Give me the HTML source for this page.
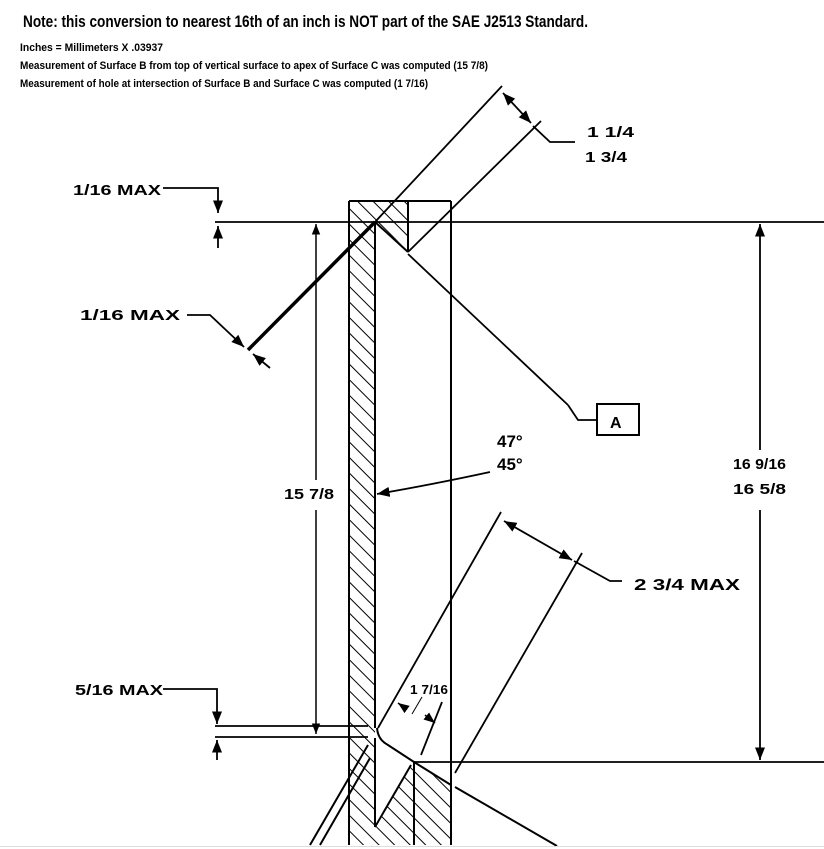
<!DOCTYPE html>
<html><head><meta charset="utf-8"><style>
html,body{margin:0;padding:0;background:#fff;}
svg{display:block;}
text{font-family:"Liberation Sans",sans-serif;font-weight:bold;fill:#000;}
</style></head><body>
<svg width="824" height="849" viewBox="0 0 824 849" xmlns="http://www.w3.org/2000/svg">
<defs>
<pattern id="h" patternUnits="userSpaceOnUse" width="11" height="11" patternTransform="rotate(-45)">
<line x1="0" y1="0" x2="0" y2="11" stroke="#000" stroke-width="2"/>
</pattern>
<marker id="a" viewBox="0 0 10 10" refX="10" refY="5" markerWidth="7" markerHeight="7" orient="auto-start-reverse"><path d="M0,1 L10,5 L0,9 z" fill="#000"/></marker>
</defs>
<text x="23" y="27" font-size="17" textLength="565" lengthAdjust="spacingAndGlyphs">Note: this conversion to nearest 16th of an inch is NOT part of the SAE J2513 Standard.</text>
<text x="20" y="51" font-size="11" textLength="143" lengthAdjust="spacingAndGlyphs">Inches = Millimeters X .03937</text>
<text x="20" y="69" font-size="11" textLength="468" lengthAdjust="spacingAndGlyphs">Measurement of Surface B from top of vertical surface to apex of Surface C was computed (15 7/8)</text>
<text x="20" y="87" font-size="11" textLength="408" lengthAdjust="spacingAndGlyphs">Measurement of hole at intersection of Surface B and Surface C was computed (1 7/16)</text>

<g stroke="#000" fill="none" stroke-width="2">
<rect x="349" y="222" width="26" height="623" fill="url(#h)" stroke="none"/>
<polygon points="349,202 408,202 408,250 375,222 349,222" fill="url(#h)" stroke="none"/>
<polygon points="414,762 451,785 451,845 375,845 375,827" fill="url(#h)" stroke="none"/>
<line x1="349" y1="201" x2="451" y2="201"/>
<line x1="349" y1="201" x2="349" y2="845"/>
<line x1="451" y1="201" x2="451" y2="845"/>
<line x1="375" y1="222" x2="375" y2="728"/>
<line x1="375" y1="738" x2="375" y2="827"/>
<line x1="408" y1="201" x2="408" y2="252"/>
<line x1="414" y1="762" x2="414" y2="845"/>
<line x1="215" y1="222" x2="824" y2="222" stroke-width="1.8"/>
<line x1="375" y1="222" x2="408" y2="252"/>
<line x1="408" y1="254" x2="568" y2="405" stroke-width="1.8"/>
<polyline points="568,405 578,420 597,420" stroke-width="1.8"/>
<line x1="375" y1="222" x2="502" y2="86" stroke-width="1.8"/>
<line x1="408" y1="252" x2="541" y2="121" stroke-width="1.8"/>
<line x1="375" y1="222" x2="248" y2="350" stroke-width="3.5"/>
<line x1="503" y1="93" x2="531" y2="123" stroke-width="1.8" marker-start="url(#a)" marker-end="url(#a)"/>
<polyline points="533,126 550,142 575,142" stroke-width="1.8"/>
<polyline points="163,188 218,188 218,213" stroke-width="1.8" marker-end="url(#a)"/>
<line x1="218" y1="248" x2="218" y2="226" stroke-width="1.8" marker-end="url(#a)"/>
<polyline points="187,315 210,315 244,347" stroke-width="1.8" marker-end="url(#a)"/>
<line x1="270" y1="368" x2="253" y2="354" stroke-width="1.8" marker-end="url(#a)"/>
<rect x="597" y="404" width="42" height="31" stroke-width="2"/>
<line x1="316" y1="480" x2="316" y2="224" stroke-width="1.5" marker-end="url(#a)"/>
<line x1="316" y1="510" x2="316" y2="734" stroke-width="1.5" marker-end="url(#a)"/>
<line x1="760" y1="450" x2="760" y2="224" stroke-width="1.8" marker-end="url(#a)"/>
<line x1="760" y1="510" x2="760" y2="760" stroke-width="1.8" marker-end="url(#a)"/>
<path d="M490,472 Q430,485 377,494" stroke-width="1.8" marker-end="url(#a)"/>
<line x1="215" y1="726" x2="368" y2="726" stroke-width="1.8"/>
<line x1="215" y1="737" x2="368" y2="737" stroke-width="1.8"/>
<polyline points="163,689 217,689 217,724" stroke-width="1.8" marker-end="url(#a)"/>
<line x1="217" y1="760" x2="217" y2="740" stroke-width="1.8" marker-end="url(#a)"/>
<path d="M377,728 Q378,740 388,745 L414,762 L451,785" stroke-width="2"/>
<line x1="455" y1="787" x2="557" y2="846" stroke-width="2"/>
<line x1="414" y1="762" x2="824" y2="762" stroke-width="1.8"/>
<line x1="378" y1="728" x2="501" y2="512" stroke-width="1.8"/>
<line x1="455" y1="773" x2="582" y2="553" stroke-width="1.8"/>
<line x1="504" y1="521" x2="572" y2="560" stroke-width="1.8" marker-start="url(#a)" marker-end="url(#a)"/>
<polyline points="574,561 610,581 622,581" stroke-width="1.8"/>
<line x1="375" y1="827" x2="411" y2="765" stroke-width="2"/>
<line x1="310" y1="845" x2="368" y2="745" stroke-width="2"/>
<line x1="320" y1="845" x2="370" y2="758" stroke-width="2"/>
<line x1="442" y1="702" x2="421" y2="755" stroke-width="1.8"/>
<line x1="398" y1="703" x2="405" y2="708" stroke-width="1.6" marker-start="url(#a)"/>
<line x1="425" y1="715" x2="435" y2="723" stroke-width="1.6" marker-end="url(#a)"/>
<line x1="412" y1="714" x2="422" y2="697" stroke-width="1"/>
<line x1="0" y1="846.5" x2="824" y2="846.5" stroke="#ddd" stroke-width="1"/>
</g>

<text x="587" y="137" font-size="15" textLength="47" lengthAdjust="spacingAndGlyphs">1 1/4</text>
<text x="585" y="162" font-size="15" textLength="42" lengthAdjust="spacingAndGlyphs">1 3/4</text>
<text x="73" y="195" font-size="15" textLength="88" lengthAdjust="spacingAndGlyphs">1/16 MAX</text>
<text x="80" y="320" font-size="15" textLength="100" lengthAdjust="spacingAndGlyphs">1/16 MAX</text>
<text x="610" y="428" font-size="16">A</text>
<text x="497" y="447" font-size="17">47°</text>
<text x="497" y="470" font-size="17">45°</text>
<text x="284" y="499" font-size="15" textLength="50" lengthAdjust="spacingAndGlyphs">15 7/8</text>
<text x="733" y="469" font-size="15" textLength="53" lengthAdjust="spacingAndGlyphs">16 9/16</text>
<text x="733" y="494" font-size="15" textLength="53" lengthAdjust="spacingAndGlyphs">16 5/8</text>
<text x="634" y="590" font-size="16" textLength="106" lengthAdjust="spacingAndGlyphs">2 3/4 MAX</text>
<text x="75" y="695" font-size="15" textLength="88" lengthAdjust="spacingAndGlyphs">5/16 MAX</text>
<text x="410" y="694" font-size="13" textLength="38" lengthAdjust="spacingAndGlyphs">1 7/16</text>
</svg>
</body></html>
